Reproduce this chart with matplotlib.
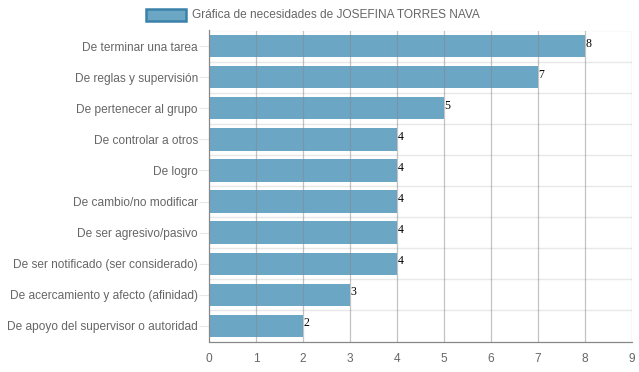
import numpy as np
import matplotlib
matplotlib.use('Agg')
import matplotlib.pyplot as plt
from matplotlib.patches import Rectangle

categorias = ['De terminar una tarea', 'De reglas y supervisión', 'De pertenecer al grupo',
              'De controlar a otros', 'De logro', 'De cambio/no modificar',
              'De ser agresivo/pasivo', 'De ser notificado (ser considerado)',
              'De acercamiento y afecto (afinidad)', 'De apoyo del supervisor o autoridad']
valores = [8, 7, 5, 4, 4, 4, 4, 4, 3, 2]
serie = 'Gráfica de necesidades de JOSEFINA TORRES NAVA'
ticks_x = list(range(0, 10))

color_barra = '#6ba6c5'
color_borde = '#3a82aa'

plt.rcParams['font.family'] = ['Liberation Sans', 'DejaVu Sans']

fig = plt.figure(figsize=(6.39, 3.72), dpi=100)
ax = fig.add_axes([209/639, 1-341.5/372, 423/639, 311/372])

y = np.arange(len(categorias))
ax.barh(y, valores, height=0.72, color=color_barra, zorder=2)
ax.set_xlim(0, 9)
ax.set_ylim(len(categorias)-0.5, -0.5)

# grid vertical encima de las barras
for t in ticks_x[1:]:
    ax.axvline(t, color='#888888', alpha=0.5, lw=0.9, zorder=3)
# lineas horizontales entre categorias
for b in np.arange(-0.5, len(categorias), 1.0)[:-1]:
    ax.axhline(b, color='#e8e8e8', lw=1, zorder=1)

for i, v in enumerate(valores):
    ax.text(v + 0.01, i - 0.08, str(v), fontsize=8.5, family='Liberation Serif',
            va='center', ha='left', color='black', zorder=4)

ax.set_yticks(y)
ax.set_yticklabels(categorias, fontsize=8.6, color='#666666')
ax.set_xticks(ticks_x)
ax.set_xticklabels([str(t) for t in ticks_x], fontsize=8.6, color='#666666')
ax.tick_params(axis='y', length=7, color='#e8e8e8', pad=1)
ax.tick_params(axis='x', length=0, pad=8)
for s in ['top', 'right']:
    ax.spines[s].set_visible(False)
ax.spines['left'].set_color('#888888')
ax.spines['left'].set_linewidth(0.9)
ax.spines['bottom'].set_color('#888888')
ax.spines['bottom'].set_linewidth(0.9)

# leyenda
fig.patches.append(Rectangle((146/639, 1-21/372), 40/639, 12/372, transform=fig.transFigure,
                             facecolor=color_barra, edgecolor=color_borde, lw=1.8))
fig.text(192/639, 1-14.5/372, serie, fontsize=8.6, color='#666666', va='center', ha='left')

fig.savefig('out.png', dpi=100)
